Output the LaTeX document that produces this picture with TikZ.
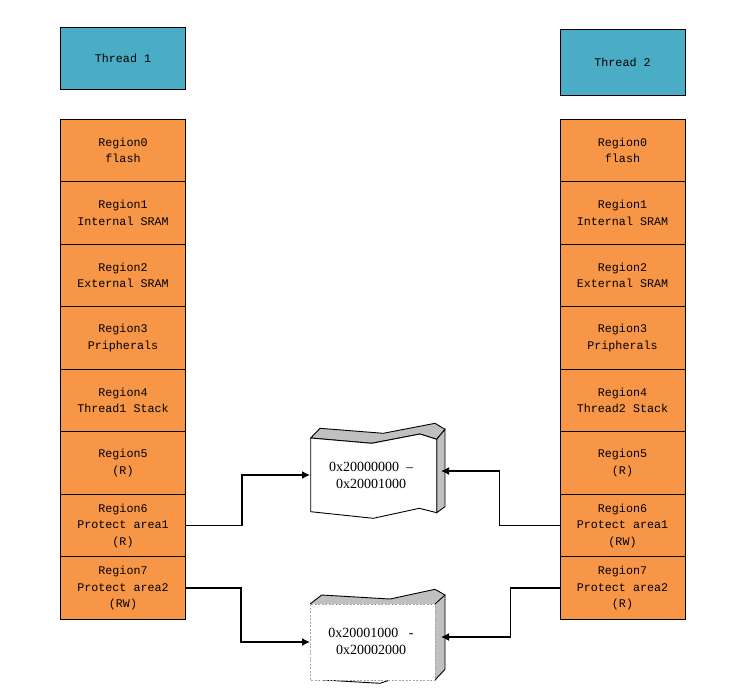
\documentclass[tikz,border=0pt]{standalone}
\usepackage{fontspec}
\setmainfont{Liberation Serif}
\newfontfamily\regfont{Liberation Mono}
\usetikzlibrary{positioning,arrows.meta}
\definecolor{threadblue}{HTML}{4BACC6}
\definecolor{regorange}{HTML}{F79646}
\definecolor{facegray}{HTML}{C0C0C0}
\begin{document}
\begin{tikzpicture}[x=1pt, y=-1pt, >={Latex[length=8pt,width=8pt]}, node distance=62.5pt,
  every node/.style={align=center},
  thread/.style={draw, line width=0.9pt, fill=threadblue, minimum width=125pt, inner sep=0pt, font=\regfont\fontsize{11.7}{17}\selectfont},
  region/.style={draw, line width=0.9pt, fill=regorange, minimum width=125pt, minimum height=62.5pt, inner sep=0pt, font=\regfont\fontsize{11.7}{16.5}\selectfont},
  face/.style={fill=facegray},
  link/.style={->, line width=1.4pt}]
  \useasboundingbox (0,0) rectangle (746,696);
  % thread 1 column
  \node[thread, minimum height=62pt] (t1) at (123,58.3) {Thread 1};
  \node[region] (a0) at (123,150.5) {Region0\\flash};
  \node[region, below of=a0] (a1) {Region1\\Internal SRAM};
  \node[region, below of=a1] (a2) {Region2\\External SRAM};
  \node[region, below of=a2] (a3) {Region3\\Pripherals};
  \node[region, below of=a3] (a4) {Region4\\Thread1 Stack};
  \node[region, below of=a4] (a5) {Region5\\(R)};
  \node[region, below of=a5] (a6) {Region6\\Protect area1\\(R)};
  \node[region, below of=a6] (a7) {Region7\\Protect area2\\(RW)};
  % thread 2 column
  \node[thread, minimum height=66pt] (t2) at (622.5,62.3) {Thread 2};
  \node[region] (b0) at (622.5,150.5) {Region0\\flash};
  \node[region, below of=b0] (b1) {Region1\\Internal SRAM};
  \node[region, below of=b1] (b2) {Region2\\External SRAM};
  \node[region, below of=b2] (b3) {Region3\\Pripherals};
  \node[region, below of=b3] (b4) {Region4\\Thread2 Stack};
  \node[region, below of=b4] (b5) {Region5\\(R)};
  \node[region, below of=b5] (b6) {Region6\\Protect area1\\(RW)};
  \node[region, below of=b6] (b7) {Region7\\Protect area2\\(R)};
  % upper memory block
  \draw[face, line width=0.9pt] (310.7,438) -- (320,428.3) -- (383.3,433.3) -- (435,423.3) -- (445,429.3) -- (436.7,439.3) -- (420,434) -- (371.7,443.3) -- cycle;
  \draw[face, line width=0.9pt] (436.7,439.3) -- (445,429.3) -- (445,506.7) -- (436.7,512.7) -- cycle;
  \draw[fill=white, line width=0.9pt] (310.7,438) -- (371.7,443.3) -- (420,434) -- (436.7,439.3) -- (436.7,512.7) -- (419.3,508.3) -- (373.3,518.3) -- (310.7,511.7) -- cycle;
  \node[font=\fontsize{14}{17}\selectfont] (m1) at (371,475) {0x20000000\ \ –\\0x20001000};
  % lower memory block
  \fill[face] (310,604) -- (321.7,595) -- (390,599) -- (435,589.3) -- (445,595) -- (445,669.3) -- (435,680) -- cycle;
  \draw[line width=0.9pt] (310,604) -- (321.7,595) -- (390,599) -- (435,589.3) -- (445,595) -- (435,604);
  \draw[line width=0.9pt] (445,595) -- (445,669.3) -- (435,680);
  \draw[line width=0.9pt] (323.3,680) -- (380,683.3) -- (390,680);
  \draw[fill=white, draw=gray!70, line width=0.7pt, dash pattern=on 2pt off 1.5pt] (310,604) rectangle (435,680);
  \node[font=\fontsize{14}{17}\selectfont] (m2) at (371,641.5) {0x20001000\ \ \ -\\0x20002000};
  % connectors
  \coordinate (m1w) at (310,475);
  \coordinate (m1e) at (441,471);
  \coordinate (m2w) at (310,642);
  \coordinate (m2e) at (441,637);
  \draw[link] (a6.east) -- ++(56,0) |- (m1w);
  \draw[link] (a7.east) -- ++(55,0) |- (m2w);
  \draw[link] (b6.west) -- ++(-60,0) |- (m1e);
  \draw[link] (b7.west) -- ++(-49,0) |- (m2e);
\end{tikzpicture}
\end{document}
